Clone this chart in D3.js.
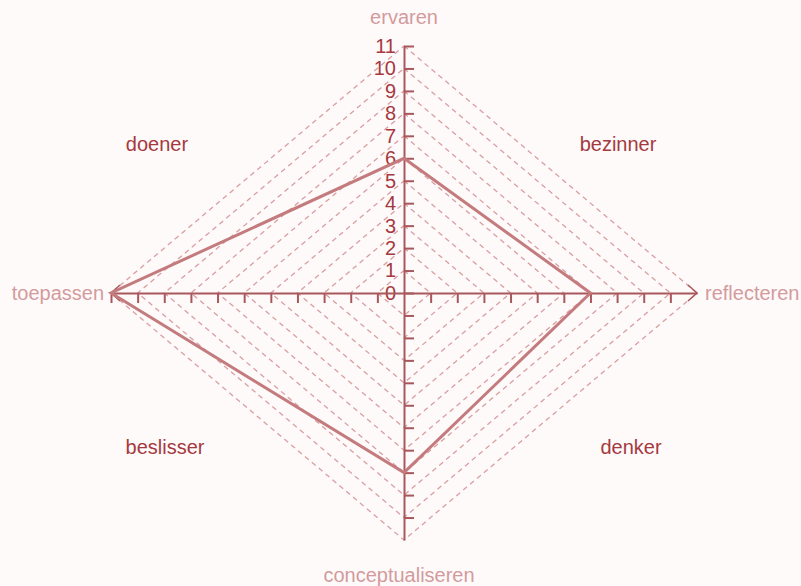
<!DOCTYPE html>
<html>
<head>
<meta charset="utf-8">
<script src="https://cdn.jsdelivr.net/npm/d3@7"></script>
<style>
  html, body { margin: 0; padding: 0; background: #fefafa; }
  #chart { width: 801px; height: 586px; }
  text { font-family: "Liberation Sans", Arial, sans-serif; }
</style>
</head>
<body>
<div id="chart"></div>
<script>
// axis names: top, right, bottom, left
const axisNames = ["ervaren", "reflecteren", "conceptualiseren", "toepassen"];
const scores = [6, 7, 8, 11];
const quadrantNames = ["bezinner", "denker", "beslisser", "doener"];
const tickLabels = [0, 1, 2, 3, 4, 5, 6, 7, 8, 9, 10, 11];
const gridLevels = [1, 2, 3, 4, 5, 6, 7, 8, 9, 10, 11];

const cx = 404, cy = 293;
const maxVal = 11;

const svg = d3.select("#chart").append("svg")
    .attr("width", 801)
    .attr("height", 586);

// one scale per direction
const yUp = d3.scaleLinear().domain([0, maxVal]).range([cy, 46]);
const yDown = d3.scaleLinear().domain([0, maxVal]).range([cy, 540]);
const xRight = d3.scaleLinear().domain([0, maxVal]).range([cx, 697]);
const xLeft = d3.scaleLinear().domain([0, maxVal]).range([cx, 111]);

const axisCol = "#a8585c";
const gridCol = "#d99ea1";
const lineCol = "#c47b7e";
const nameCol = "#d39b9d";
const quadCol = "#a5393f";

const pt = (axis, v) => {
    if (axis === 0) return [cx, yUp(v)];
    if (axis === 1) return [xRight(v), cy];
    if (axis === 2) return [cx, yDown(v)];
    return [xLeft(v), cy];
};

// dashed diamonds
svg.append("g").selectAll("path")
    .data(gridLevels)
    .join("path")
    .attr("d", v => d3.line()([0, 1, 2, 3].map(a => pt(a, v))) + "Z")
    .attr("fill", "none")
    .attr("stroke", gridCol)
    .attr("stroke-width", 1.3)
    .attr("stroke-dasharray", "5,4");

// axes
function styleAxis(g) {
    g.selectAll("path, line").attr("stroke", axisCol).attr("stroke-width", 2);
    g.selectAll("text").attr("fill", quadCol).style("font-size", "20px")
        .style("font-family", "Liberation Sans, Arial, sans-serif");
}

svg.append("g")
    .attr("transform", `translate(${cx},0)`)
    .call(d3.axisLeft(yUp).tickValues(tickLabels).tickFormat(d3.format("d"))
        .tickSizeInner(-10).tickSizeOuter(0).tickPadding(8))
    .call(styleAxis);

svg.append("g")
    .attr("transform", `translate(${cx},0)`)
    .call(d3.axisLeft(yDown).tickValues(d3.range(1, 11)).tickFormat("")
        .tickSizeInner(-10).tickSizeOuter(0))
    .call(styleAxis);

svg.append("g")
    .attr("transform", `translate(0,${cy})`)
    .call(d3.axisBottom(xRight).tickValues(d3.range(1, 11)).tickFormat("")
        .tickSizeInner(10).tickSizeOuter(0))
    .call(styleAxis);

svg.append("g")
    .attr("transform", `translate(0,${cy})`)
    .call(d3.axisBottom(xLeft).tickValues(d3.range(1, 12)).tickFormat("")
        .tickSizeInner(10).tickSizeOuter(0))
    .call(styleAxis);

// arrow heads on the horizontal axis
const tipR = xRight(maxVal), tipL = xLeft(maxVal);
svg.append("path")
    .attr("d", `M${tipR - 9},${cy - 8}L${tipR},${cy}L${tipR - 9},${cy + 8}`)
    .attr("fill", "none").attr("stroke", axisCol).attr("stroke-width", 1.5);
svg.append("path")
    .attr("d", `M${tipL + 9},${cy - 8}L${tipL},${cy}L${tipL + 9},${cy + 8}`)
    .attr("fill", "none").attr("stroke", axisCol).attr("stroke-width", 1.5);

// score polygon
svg.append("path")
    .datum(scores)
    .attr("d", d => d3.line()(d.map((v, i) => pt(i, v))) + "Z")
    .attr("fill", "none")
    .attr("stroke", lineCol)
    .attr("stroke-width", 3)
    .attr("stroke-linejoin", "miter");

// axis names
const nameSpots = [
    { x: cx, y: 17, anchor: "middle" },
    { x: 705, y: cy, anchor: "start" },
    { x: 399, y: 575, anchor: "middle" },
    { x: 104, y: cy, anchor: "end" }
];
svg.append("g").selectAll("text")
    .data(axisNames)
    .join("text")
    .attr("x", (d, i) => nameSpots[i].x)
    .attr("y", (d, i) => nameSpots[i].y)
    .attr("text-anchor", (d, i) => nameSpots[i].anchor)
    .attr("dominant-baseline", "central")
    .attr("fill", nameCol)
    .style("font-size", "20px")
    .text(d => d);

// quadrant names
const quadSpots = [[618, 144], [631, 447], [165, 447], [157, 144]];
svg.append("g").selectAll("text")
    .data(quadrantNames)
    .join("text")
    .attr("x", (d, i) => quadSpots[i][0])
    .attr("y", (d, i) => quadSpots[i][1])
    .attr("text-anchor", "middle")
    .attr("dominant-baseline", "central")
    .attr("fill", quadCol)
    .style("font-size", "20px")
    .text(d => d);
</script>
</body>
</html>
